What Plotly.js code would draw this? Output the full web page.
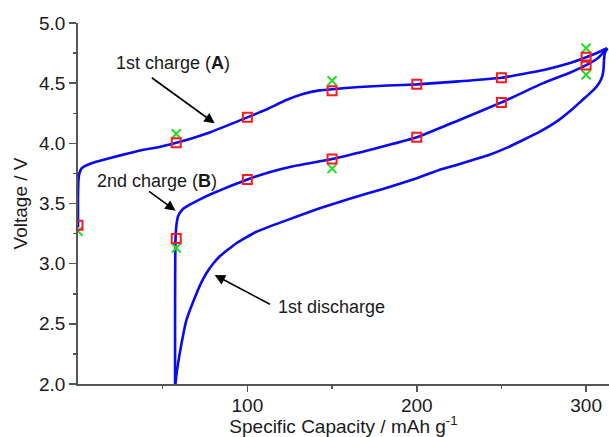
<!DOCTYPE html>
<html>
<head>
<meta charset="utf-8">
<script src="https://cdn.plot.ly/plotly-3.0.1.min.js"></script>
<style>html,body{margin:0;padding:0;background:#fff;}#chart{width:609px;height:437px;}</style>
</head>
<body>
<div id="chart"></div>
<script>
// 1st charge (A)
var charge1X = [0, 0, 0.3, 0.8, 2, 4, 8, 13, 25, 38, 48, 58, 68, 77.7, 87.6, 100, 111, 123, 132.8, 142.7, 150, 166, 183, 200, 225, 250, 275, 290, 300, 307, 312.5];
var charge1V = [3.30, 3.55, 3.70, 3.75, 3.79, 3.81, 3.835, 3.855, 3.90, 3.945, 3.97, 4.005, 4.045, 4.09, 4.145, 4.216, 4.28, 4.36, 4.41, 4.44, 4.45, 4.468, 4.48, 4.49, 4.515, 4.545, 4.61, 4.665, 4.715, 4.755, 4.79];
// 1st discharge
var dischargeX = [312.5, 311.0, 310.5, 310.3, 309.6, 308.1, 305.5, 302.2, 297, 292.3, 282.5, 272.7, 262.8, 253, 243, 233, 223.5, 213.6, 200, 180, 160.4, 142.7, 123, 105.3, 93.5, 83.6, 79.5, 75.8, 72.7, 69.9, 64, 60, 58.3, 57.5];
var dischargeV = [4.79, 4.75, 4.68, 4.62, 4.56, 4.51, 4.46, 4.415, 4.35, 4.29, 4.18, 4.097, 4.028, 3.962, 3.905, 3.862, 3.82, 3.78, 3.71, 3.62, 3.54, 3.46, 3.36, 3.265, 3.17, 3.06, 2.995, 2.92, 2.84, 2.75, 2.53, 2.25, 2.10, 2.0];
// 2nd charge (B)
var charge2X = [57.3, 57.3, 57.4, 57.6, 58.2, 59, 60, 62, 66, 72, 79.7, 90, 100, 113, 127, 150, 175, 200, 224.5, 250, 274.6, 290, 300, 307, 312.5];
var charge2V = [2.0, 2.5, 3.0, 3.21, 3.33, 3.39, 3.42, 3.455, 3.49, 3.535, 3.585, 3.645, 3.70, 3.76, 3.81, 3.87, 3.955, 4.05, 4.19, 4.34, 4.50, 4.585, 4.65, 4.71, 4.79];
// red square markers
var squareX = [0, 58, 100, 150, 200, 250, 300, 58, 100, 150, 200, 250, 300];
var squareV = [3.32, 4.005, 4.216, 4.437, 4.49, 4.545, 4.715, 3.21, 3.70, 3.87, 4.05, 4.34, 4.65];
// green cross markers
var crossX = [0, 58, 150, 300, 58, 150, 300];
var crossV = [3.27, 4.08, 4.52, 4.79, 3.13, 3.79, 4.57];
// tick labels
var xTicks = [100, 200, 300];
var xMinor = [50, 150, 250];
var yTicks = [2.0, 2.5, 3.0, 3.5, 4.0, 4.5, 5.0];
var yTickText = ['2.0', '2.5', '3.0', '3.5', '4.0', '4.5', '5.0'];

var blueLine = {color: '#0a0aee', width: 2.6, shape: 'spline', smoothing: 0.4};
var traces = [
  {x: charge1X, y: charge1V, mode: 'lines', line: blueLine, hoverinfo: 'skip'},
  {x: dischargeX, y: dischargeV, mode: 'lines', line: blueLine, hoverinfo: 'skip'},
  {x: charge2X, y: charge2V, mode: 'lines', line: blueLine, hoverinfo: 'skip'},
  {x: crossX, y: crossV, mode: 'markers', marker: {symbol: 'x-thin-open', size: 9, color: '#22dd22', line: {color: '#22dd22', width: 2}}},
  {x: squareX, y: squareV, mode: 'markers', marker: {symbol: 'square-open', size: 9, color: '#ff1a1a', line: {color: '#ff1a1a', width: 2}}}
];

var font = {family: 'Liberation Sans, Arial, sans-serif', size: 18, color: '#1a1a1a'};
var tickFont = {family: 'Liberation Sans, Arial, sans-serif', size: 19, color: '#1a1a1a'};
var arrowStyle = {text: '', showarrow: true, arrowhead: 2, arrowsize: 1.3, arrowwidth: 1.6, arrowcolor: '#000', axref: 'x', ayref: 'y', standoff: 0};

var layout = {
  width: 609, height: 437,
  margin: {l: 78, r: 0, t: 23, b: 53},
  paper_bgcolor: '#fff', plot_bgcolor: '#fff',
  showlegend: false,
  font: font,
  xaxis: {
    range: [0, 313.5], showgrid: false, zeroline: false,
    showline: true, linecolor: '#555', linewidth: 1.8,
    ticks: 'outside', ticklen: 6, tickwidth: 1.5, tickcolor: '#555',
    tickmode: 'array', tickvals: xTicks, ticklabelstandoff: -3,
    minor: {tickmode: 'array', tickvals: xMinor, ticks: 'outside', ticklen: 3.5, tickwidth: 1.5, tickcolor: '#555'},
    tickfont: tickFont,
    title: {text: 'Specific Capacity / mAh g<sup>-1</sup>', font: tickFont, standoff: 6}
  },
  yaxis: {
    range: [2, 5], showgrid: false, zeroline: false,
    showline: true, linecolor: '#555', linewidth: 1.8,
    ticks: 'outside', ticklen: 7, tickwidth: 1.5, tickcolor: '#555',
    tickmode: 'array', tickvals: yTicks, ticktext: yTickText,
    minor: {dtick: 0.25, ticks: 'outside', ticklen: 3.5, tickwidth: 1.5, tickcolor: '#555'},
    tickfont: tickFont,
    title: {text: 'Voltage / V', font: tickFont, standoff: 6}
  },
  annotations: [
    {x: 55.9, y: 4.67, text: '1st charge (<b>A</b>)', showarrow: false, font: font},
    {x: 46.4, y: 3.687, text: '2nd charge (<b>B</b>)', showarrow: false, font: font},
    {x: 149.8, y: 2.64, text: '1st discharge', showarrow: false, font: font},
    Object.assign({}, arrowStyle, {x: 80.7, y: 4.166, ax: 42.7, ay: 4.554}),
    Object.assign({}, arrowStyle, {x: 57.6, y: 3.44, ax: 41.1, ay: 3.61}),
    Object.assign({}, arrowStyle, {x: 80.7, y: 2.906, ax: 114.2, ay: 2.656})
  ]
};

Plotly.newPlot('chart', traces, layout, {staticPlot: true, displayModeBar: false});
</script>
</body>
</html>
